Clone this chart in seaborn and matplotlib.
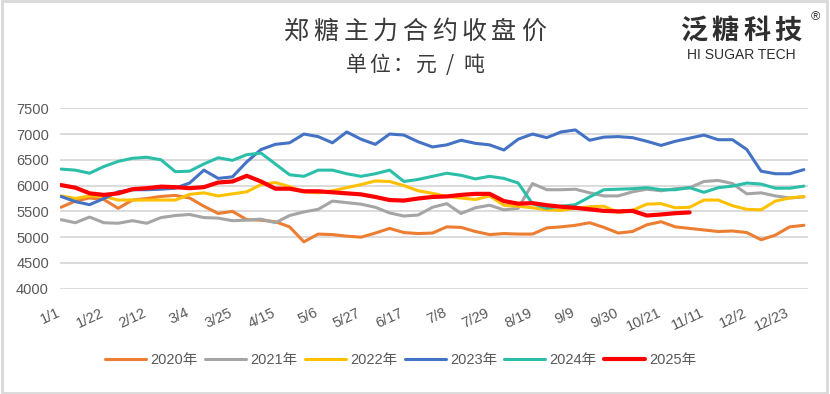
import matplotlib
matplotlib.use('Agg')
import matplotlib.pyplot as plt
import matplotlib.transforms as mtransforms
from matplotlib.patches import Rectangle
import pandas as pd
import seaborn as sns

# day of year (weekly samples)
days = list(range(0, 365, 7))
tick_days = list(range(0, 358, 21))
tick_labels = ['1/1', '1/22', '2/12', '3/4', '3/25', '4/15', '5/6', '5/27', '6/17',
               '7/8', '7/29', '8/19', '9/9', '9/30', '10/21', '11/11', '12/2', '12/23']

p2020 = [5580, 5700, 5760, 5730, 5560, 5720, 5750, 5790, 5810, 5760, 5600, 5460, 5500,
         5340, 5330, 5300, 5200, 4910, 5060, 5050, 5020, 5000, 5080, 5170, 5090, 5070,
         5080, 5200, 5190, 5110, 5050, 5070, 5060, 5060, 5180, 5200, 5230, 5280, 5190,
         5080, 5110, 5240, 5300, 5200, 5170, 5140, 5110, 5120, 5090, 4950, 5040, 5200, 5230]
p2021 = [5340, 5280, 5390, 5280, 5270, 5320, 5270, 5380, 5420, 5440, 5380, 5370, 5320,
         5330, 5350, 5280, 5420, 5490, 5540, 5700, 5670, 5640, 5580, 5470, 5410, 5430,
         5580, 5650, 5460, 5570, 5620, 5530, 5560, 6040, 5920, 5920, 5930, 5860, 5800,
         5800, 5880, 5930, 5900, 5940, 5960, 6080, 6100, 6040, 5840, 5860, 5800, 5760, 5780]
p2022 = [5800, 5750, 5800, 5790, 5720, 5720, 5720, 5720, 5720, 5830, 5860, 5800, 5840,
         5880, 6020, 6060, 5980, 5880, 5860, 5900, 5960, 6020, 6090, 6080, 6000, 5900,
         5850, 5790, 5760, 5730, 5800, 5620, 5600, 5570, 5530, 5520, 5560, 5590, 5600,
         5480, 5520, 5640, 5650, 5570, 5580, 5720, 5720, 5610, 5540, 5530, 5700, 5760, 5790]
p2023 = [5790, 5690, 5630, 5750, 5880, 5920, 5920, 5930, 5950, 6050, 6300, 6140, 6170,
         6460, 6700, 6800, 6830, 7000, 6950, 6830, 7040, 6900, 6800, 7000, 6980, 6850,
         6750, 6790, 6880, 6820, 6790, 6690, 6900, 7000, 6930, 7040, 7080, 6880, 6940,
         6950, 6930, 6860, 6780, 6860, 6920, 6980, 6890, 6890, 6700, 6280, 6230, 6230, 6310]
p2024 = [6320, 6300, 6240, 6370, 6470, 6530, 6550, 6500, 6270, 6280, 6420, 6540, 6490,
         6600, 6630, 6420, 6210, 6180, 6300, 6300, 6230, 6180, 6230, 6300, 6080, 6120,
         6180, 6240, 6200, 6130, 6180, 6140, 6050, 5650, 5560, 5600, 5630, 5780, 5920,
         5930, 5940, 5960, 5920, 5920, 5960, 5870, 5960, 5990, 6050, 6030, 5950, 5950, 5990]
p2025 = [6010, 5960, 5850, 5820, 5850, 5930, 5950, 5980, 5970, 5950, 5970, 6060, 6080,
         6190, 6080, 5940, 5940, 5890, 5890, 5870, 5850, 5830, 5780, 5720, 5710, 5750,
         5780, 5790, 5820, 5840, 5840, 5700, 5650, 5660, 5620, 5590, 5570, 5540, 5510,
         5500, 5510, 5420, 5440, 5465, 5480]

series = [('2020年', p2020, '#ED7D31', 2.2),
          ('2021年', p2021, '#A5A5A5', 2.2),
          ('2022年', p2022, '#FFC000', 2.2),
          ('2023年', p2023, '#4472C4', 2.2),
          ('2024年', p2024, '#2BBFAA', 2.2),
          ('2025年', p2025, '#FF0000', 3.0)]

frames = []
for name, vals, _, _ in series:
    frames.append(pd.DataFrame({'day': days[:len(vals)], 'price': vals, 'year': name}))
df = pd.concat(frames)

sns.set_style('white')
plt.rcParams['font.family'] = ['Liberation Sans', 'Noto Sans CJK SC']

W, H = 830, 394
fig = plt.figure(figsize=(W / 100, H / 100), dpi=100)
ax = fig.add_axes([60 / W, 1 - 289 / H, 748 / W, 181 / H])

for name, _, color, lw in series:
    sub = df[df['year'] == name]
    sns.lineplot(data=sub, x='day', y='price', color=color, linewidth=lw, label=name, ax=ax)
if ax.get_legend() is not None:
    ax.get_legend().remove()

ax.set_xlim(-0.5, 366)
ax.set_ylim(3995, 7505)
ax.set_yticks(range(4000, 7501, 500))
ax.yaxis.grid(True, color='#D9D9D9', linewidth=1.3)
ax.xaxis.grid(False)
ax.set_axisbelow(True)
for s in ax.spines.values():
    s.set_visible(False)
ax.set_xlabel('')
ax.set_ylabel('')
ax.tick_params(axis='both', length=0, labelsize=10.5, labelcolor='#595959')
ax.tick_params(axis='y', pad=8)
ax.tick_params(axis='x', pad=12)
ax.set_xticks(tick_days)
ax.set_xticklabels(tick_labels, rotation=25, ha='right', va='top', rotation_mode='anchor')
shift = mtransforms.ScaledTranslation(-4 / 100, 0, fig.dpi_scale_trans)
for lab in ax.get_xticklabels():
    lab.set_transform(lab.get_transform() + shift)

h, l = ax.get_legend_handles_labels()
fig.legend(h, l, loc='center', bbox_to_anchor=(401 / W, 1 - 360 / H), ncol=6, frameon=False,
           fontsize=10.5, handlelength=2.8, handletextpad=0.3, columnspacing=0.5,
           labelcolor='#595959')


def spaced_text(xc, y, s, size, step, color, weight='normal'):
    n = len(s)
    for i, ch in enumerate(s):
        x = xc + (i - (n - 1) / 2) * step
        fig.text(x / W, 1 - y / H, ch, ha='center', va='center', fontsize=size,
                 color=color, family=['Noto Sans CJK SC'], weight=weight)


spaced_text(415, 32, '郑糖主力合约收盘价', 18, 29.6, '#3a3a3a', weight='medium')
spaced_text(415, 65, '单位：元/吨', 15, 23.5, '#3a3a3a')

spaced_text(741, 31, '泛糖科技', 19.5, 31.5, '#2f2f2f', weight='bold')
fig.text(741.5 / W, 1 - 55 / H, 'HI SUGAR TECH', ha='center', va='center', fontsize=10,
         color='#2f2f2f')
fig.text(815 / W, 1 - 17 / H, '®', ha='center', va='center', fontsize=9, color='#333333')

fig.patches.append(Rectangle((0.002, 0.003), 0.994, 0.994, transform=fig.transFigure,
                             fill=False, edgecolor='#D9D9D9', linewidth=2))

fig.savefig('out.png', dpi=100, facecolor='white')
